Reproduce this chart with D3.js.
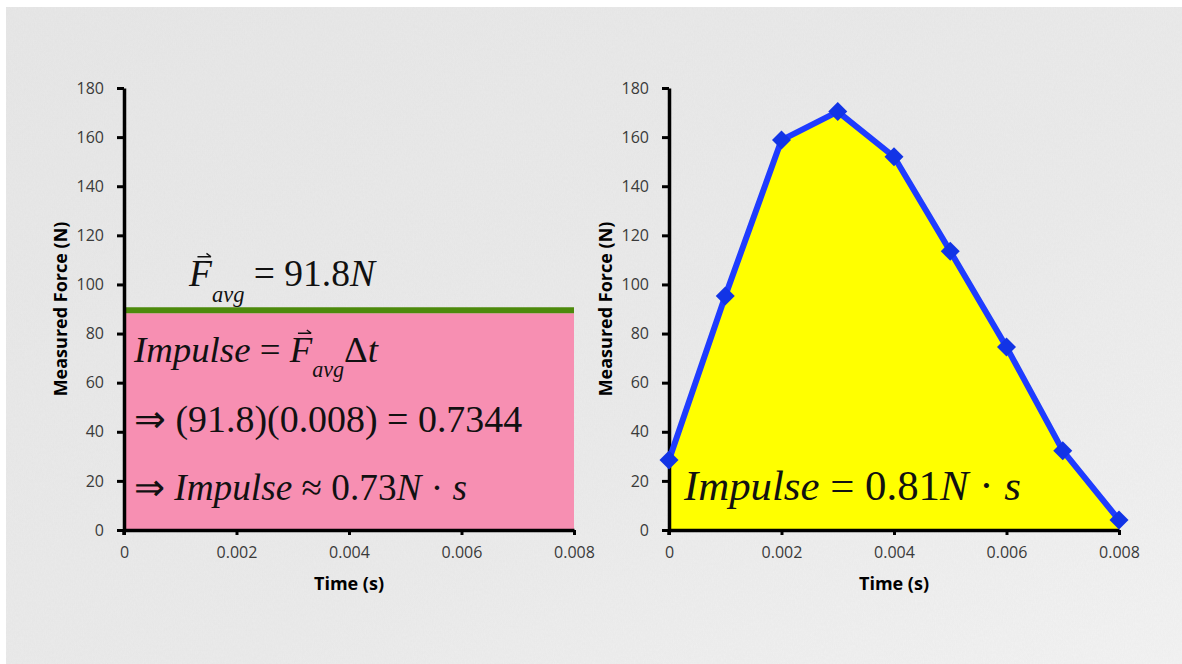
<!DOCTYPE html>
<html><head><meta charset="utf-8">
<script src="https://cdn.jsdelivr.net/npm/d3@7"></script>
<style>
html,body{margin:0;padding:0;background:#fff;}
svg{display:block;}
</style></head>
<body>
<svg id="c" width="1182" height="664"></svg>
<script>
// ---- data ----
const yTicks = [0, 20, 40, 60, 80, 100, 120, 140, 160, 180];
const xTicks = [0, 0.002, 0.004, 0.006, 0.008];
const xTickLabels = ["0", "0.002", "0.004", "0.006", "0.008"];
const times = [0, 0.001, 0.002, 0.003, 0.004, 0.005, 0.006, 0.007, 0.008];
const forces = [28.5, 95.3, 158.8, 170.4, 152.0, 113.5, 74.5, 32.3, 4.1];
const avgLevel = 89.5;     // drawn level of the average-force line
const avgStart = 0, avgEnd = 0.008;

const svg = d3.select("#c");
const W = 1182, H = 664;

// background paper
const defs = svg.append("defs");
const g1 = defs.append("linearGradient").attr("id","paper").attr("x1","0").attr("y1","0").attr("x2","1").attr("y2","1");
g1.append("stop").attr("offset","0").attr("stop-color","#e7e7e7");
g1.append("stop").attr("offset","0.6").attr("stop-color","#ebebeb");
g1.append("stop").attr("offset","1").attr("stop-color","#f3f3f3");
const flt = defs.append("filter").attr("id","noise").attr("x","0").attr("y","0").attr("width","1").attr("height","1");
flt.append("feTurbulence").attr("type","fractalNoise").attr("baseFrequency","0.9 0.35").attr("numOctaves","2").attr("seed","3").attr("result","n");
flt.append("feColorMatrix").attr("type","matrix").attr("values","0 0 0 0 0.5  0 0 0 0 0.5  0 0 0 0 0.5  0 0 0 0.14 0");
svg.append("rect").attr("width",W).attr("height",H).attr("fill","#fff");
svg.append("rect").attr("x",6).attr("y",7).attr("width",W-6).attr("height",H-7).attr("fill","url(#paper)");
svg.append("rect").attr("x",6).attr("y",7).attr("width",W-6).attr("height",H-7).attr("filter","url(#noise)").attr("opacity",0.7);

const tickFont = "'Open Sans', sans-serif";
const mathFont = "'Liberation Serif', serif";

function drawFrame(x0, x1) {
  const x = d3.scaleLinear().domain([0, 0.008]).range([x0, x1]);
  const y = d3.scaleLinear().domain([0, 180]).range([530, 88]);
  return {x, y};
}

function drawAxes(sc, g) {
  const {x, y} = sc;
  const yAx = g.append("g").attr("transform", `translate(${x(0)},0)`)
    .call(d3.axisLeft(y).tickValues(yTicks).tickSize(7).tickPadding(13).tickSizeOuter(0));
  const xAx = g.append("g").attr("transform", `translate(0,${y(0)})`)
    .call(d3.axisBottom(x).tickValues(xTicks).tickSize(5).tickPadding(12).tickSizeOuter(0)
      .tickFormat((d,i) => xTickLabels[i]));
  [yAx, xAx].forEach(a => {
    a.attr("font-size", null).attr("font-family", null);
    a.select(".domain").attr("stroke","#000").attr("stroke-width",3.5);
    a.selectAll(".tick line").attr("stroke","#000").attr("stroke-width",3);
    a.selectAll(".tick text").attr("fill","#3a3a3a").style("font-family",tickFont).style("font-size","16px");
  });
  g.append("line").attr("x1",x(0)).attr("x2",x(0)).attr("y1",y(0)).attr("y2",y(0)+5).attr("stroke","#000").attr("stroke-width",3.5);
  g.append("text").attr("x",(x(0)+x(0.008))/2).attr("y",590).attr("text-anchor","middle")
    .style("font-family",tickFont).style("font-weight","700").style("font-size","18px").attr("fill","#000").text("Time (s)");
  g.append("text").attr("transform",`translate(${x(0)-57},${(y(0)+y(180))/2}) rotate(-90)`).attr("text-anchor","middle")
    .style("font-family",tickFont).style("font-weight","700").style("font-size","18px").attr("fill","#000").text("Measured Force (N)");
}

// ---------- left chart ----------
const L = drawFrame(124, 574);
const gl = svg.append("g");
gl.append("rect").attr("x",L.x(avgStart)).attr("y",L.y(avgLevel)+3).attr("width",L.x(avgEnd)-L.x(avgStart))
  .attr("height",L.y(0)-L.y(avgLevel)-3).attr("fill","#f78fb2");
gl.append("line").attr("x1",L.x(avgStart)).attr("x2",L.x(avgEnd)).attr("y1",L.y(avgLevel)).attr("y2",L.y(avgLevel))
  .attr("stroke","#4d8a0c").attr("stroke-width",6);
drawAxes(L, gl);

// math-like text fitted to a target width by scaling its font size
function mathText(g, xPos, yPos, width, parts) {
  const base = 30;
  const t = g.append("text").attr("x",xPos).attr("y",yPos)
    .style("font-family",mathFont).style("font-size",base+"px").attr("fill","#111");
  const spans = parts.map(p => {
    const s = t.append("tspan").text(p.t);
    if (p.i) s.style("font-style","italic");
    return s;
  });
  const apply = k => {
    t.style("font-size",(base*k)+"px");
    parts.forEach((p,i) => {
      if (p.fs) spans[i].style("font-size",(p.fs*base*k)+"px");
      if (p.dy) spans[i].attr("dy",p.dy*base*k);
    });
  };
  apply(1);
  const w = t.node().getComputedTextLength();
  const k = width / w;
  apply(k);
  const size = base*k;
  // vector arrows over the parts marked with arrow
  parts.forEach((p,i) => {
    if (!p.arrow) return;
    const n = spans[i].node();
    const x0 = n.getStartPositionOfChar(0).x, x1 = n.getEndPositionOfChar(0).x;
    const cx = (x0 + x1)/2 + size*0.1, cy = yPos - size*0.78, aw = size*0.36;
    g.append("path").attr("d",`M${cx-aw/2},${cy} L${cx+aw/2},${cy} M${cx+aw/2-size*0.12},${cy-size*0.09} L${cx+aw/2},${cy}`)
      .attr("stroke","#111").attr("stroke-width",1.4).attr("fill","none");
  });
  return {t, size};
}

// F_avg = 91.8N
mathText(gl, 189, 286, 186, [
  {t:"F", i:true, arrow:true},
  {t:"avg", i:true, fs:0.6, dy:0.42},
  {t:" = 91.8", dy:-0.42},
  {t:"N", i:true}
]);

mathText(gl, 134, 362, 244, [
  {t:"Impulse", i:true},
  {t:" = "},
  {t:"F", i:true, arrow:true},
  {t:"avg", i:true, fs:0.6, dy:0.42},
  {t:"Δ", dy:-0.42},
  {t:"t", i:true}
]);

mathText(gl, 134, 432, 388, [
  {t:"⇒ (91.8)(0.008) = 0.7344"}
]);
mathText(gl, 134, 500, 333, [
  {t:"⇒ "},
  {t:"Impulse", i:true},
  {t:" ≈ 0.73"},
  {t:"N", i:true},
  {t:" · "},
  {t:"s", i:true}
]);

// ---------- right chart ----------
const R = drawFrame(669, 1119);
const gr = svg.append("g");
const pts = times.map((t,i) => ({t, f: forces[i]}));
gr.append("path").datum(pts)
  .attr("d", d3.area().x(d => R.x(d.t)).y0(R.y(0)).y1(d => R.y(d.f)))
  .attr("fill","#ffff00");
drawAxes(R, gr);
gr.append("path").datum(pts)
  .attr("d", d3.line().x(d => R.x(d.t)).y(d => R.y(d.f)))
  .attr("fill","none").attr("stroke","#1f3cff").attr("stroke-width",6).attr("stroke-linejoin","round");
gr.selectAll(".mk").data(pts).enter().append("path")
  .attr("transform", d => `translate(${R.x(d.t)},${R.y(d.f)})`)
  .attr("d", d3.symbol().type(d3.symbolDiamond2).size(230))
  .attr("fill","#1234e6");

mathText(gr, 684, 500, 337, [
  {t:"Impulse", i:true},
  {t:" = 0.81"},
  {t:"N", i:true},
  {t:" · "},
  {t:"s", i:true}
]);
</script>
</body></html>
